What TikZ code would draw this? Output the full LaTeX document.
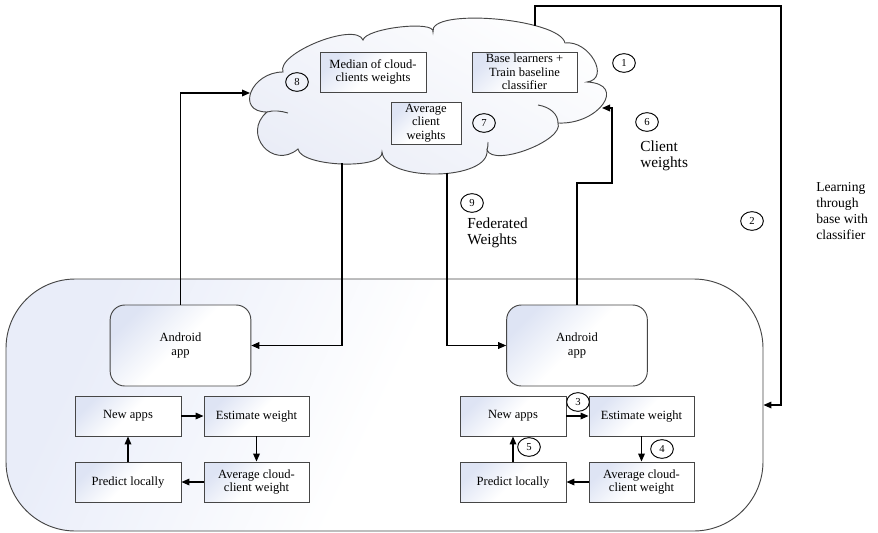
\documentclass[tikz,border=0pt]{standalone}
\usepackage{fontspec}
\setmainfont{Liberation Serif}
\usetikzlibrary{arrows.meta,shapes.geometric}
\definecolor{tint}{RGB}{222,228,244}
\definecolor{tintC}{RGB}{234,237,247}
\definecolor{tintK}{RGB}{233,237,249}
\definecolor{edge}{RGB}{70,70,70}
\begin{document}
\begin{tikzpicture}[x=0.75pt,y=-0.75pt,
  bx/.style={draw=edge, line width=0.7pt, minimum width=79.5pt, minimum height=30pt,
    inner sep=1pt, align=center, font=\fontsize{9.4}{10.2}\selectfont,
    top color=tint, bottom color=white, middle color=white, shading angle=45},
  andrbox/.style={bx, rounded corners=11pt, minimum width=105.5pt, minimum height=60.75pt},
  cont/.style={draw=edge, line width=0.7pt, rounded corners=52pt, minimum width=567.75pt,
    minimum height=189pt, inner sep=0pt, top color=tintK, bottom color=white, middle color=white, shading angle=65},
  numc/.style={ellipse, draw=black, line width=0.7pt, minimum width=17pt, minimum height=14pt,
    inner sep=0pt, font=\fontsize{8}{9}\selectfont},
  lbl/.style={align=left, inner sep=0pt, font=\fontsize{11.5}{12.3}\selectfont},
  arrw/.style={-{Triangle[length=6pt,width=5pt]}, line width=0.9pt, black},
  cloudline/.style={draw=edge, line width=0.7pt}
]
\useasboundingbox (0,0) rectangle (878,532);

% client container
\node[cont] (CT) at (384.5,405) {};

% cloud
\path[cloudline, top color=white, bottom color=tintC, shading angle=-30]
  (267,112) .. controls (235,112) and (251,72) .. (283,72)
  .. controls (275.6,53.4) and (355.6,21.4) .. (363,40)
  .. controls (365.7,28) and (435.7,20) .. (433,32)
  .. controls (427.7,7.3) and (559.7,18.3) .. (565,43)
  .. controls (589,39.7) and (611,78.7) .. (587,82)
  .. controls (627.7,84) and (598.7,125) .. (558,123)
  .. controls (564.6,140.4) and (493.6,167.4) .. (487,150)
  .. controls (490.3,180.7) and (385.3,182.7) .. (382,152)
  .. controls (384.7,170) and (300.7,167) .. (298,149)
  .. controls (272.5,170.4) and (241.5,133.4) .. (267,112) -- cycle;
\draw[cloudline] (267,112) .. controls (274,110) and (281,111) .. (288,113);
\draw[cloudline] (538,105) .. controls (550,107) and (558,114) .. (558,123);
\draw[cloudline] (487,150) .. controls (488,147) and (488,145) .. (488,142);

\coordinate (cL) at (250,93);
\coordinate (cR) at (602,108);
\coordinate (cB1) at (342,163);
\coordinate (cB2) at (447,173);
\coordinate (cT) at (535,26);
\coordinate (k1) at (612,183);
\coordinate (k2) at (781,6);

% cloud boxes
\node[bx] (MED) at (373,72) {Median of cloud-\\clients weights};
\node[bx, minimum width=78.75pt] (BASE) at (524.5,72) {Base learners +\\Train baseline\\classifier};
\node[bx, minimum width=52.5pt, minimum height=31.5pt] (AVG) at (426,123) {Average\\client\\weights};

% android apps
\node[andrbox] (LA) at (180.5,345.5) {Android\\app};
\node[andrbox] (RA) at (577,345.5) {Android\\app};

% left client boxes
\node[bx] (LN) at (128,416) {New apps};
\node[bx, minimum width=78.75pt] (LE) at (256.5,416) {Estimate weight};
\node[bx] (LP) at (128,482) {Predict locally};
\node[bx, minimum width=78.75pt] (LV) at (256.5,482) {Average cloud-\\client weight};

% right client boxes
\node[bx] (RN) at (513,416) {New apps};
\node[bx, minimum width=78.75pt] (RE) at (641.5,416) {Estimate weight};
\node[bx] (RP) at (513,482) {Predict locally};
\node[bx, minimum width=78.75pt] (RV) at (641.5,482) {Average cloud-\\client weight};

% inner arrows
\draw[arrw] (LN) -- (LE);
\draw[arrw] (LE) -- (LV);
\draw[arrw] (LV) -- (LP);
\draw[arrw] (LP) -- (LN);
\draw[arrw] (RN) -- (RE);
\draw[arrw] (RE) -- (RV);
\draw[arrw] (RV) -- (RP);
\draw[arrw] (RP) -- (RN);

% connectors
\draw[arrw] (LA.north) |- (cL);
\draw[arrw] (cB1) |- (LA.east);
\draw[arrw] (cB2) |- (RA.west);
\draw[arrw] (RA.north) |- (k1) |- (cR);
\draw[arrw] (cT) |- (k2) |- (CT.east);

% numbers
\node[numc] (n1) at (624,63) {1};
\node[numc] (n2) at (752,221) {2};
\node[numc, fill=white] (n3) at (578,402) {3};
\node[numc] (n4) at (662,449) {4};
\node[numc] (n5) at (529,447) {5};
\node[numc] (n6) at (647,122) {6};
\node[numc] (n7) at (484,123) {7};
\node[numc] (n8) at (297,82) {8};
\node[numc] (n9) at (472,203) {9};

% labels
\node[lbl, anchor=west] (cw) at (640,156) {Client\\weights};
\node[lbl, anchor=west] (fw) at (467,233) {Federated\\Weights};
\node[lbl, anchor=west, font=\fontsize{10.2}{12}\selectfont] (lb) at (816,211) {Learning\\through\\base with\\classifier};
\end{tikzpicture}
\end{document}
